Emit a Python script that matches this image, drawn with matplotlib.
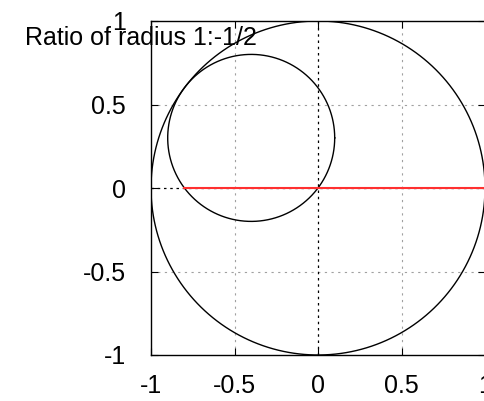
import numpy as np
import matplotlib
matplotlib.use("Agg")
import matplotlib.pyplot as plt

# data: fixed circle, rolling circle and the rod
big_radius = 1.0
big_center = (0.0, 0.0)
small_radius = 0.5
small_center = (-0.4, 0.3)
rod_x = [-0.8, 1.0]
rod_y = [0.0, 0.0]
ticks = [-1, -0.5, 0, 0.5, 1]
tick_labels = ["-1", "-0.5", "0", "0.5", "1"]
title = "Ratio of radius 1:-1/2"

plt.rcParams['font.family'] = ['Liberation Sans', 'DejaVu Sans']

fig = plt.figure(figsize=(4.84, 4.01), dpi=100)
ax = fig.add_axes([151 / 484, 46 / 401, 334 / 484, 334 / 401])

t = np.linspace(0, 2 * np.pi, 400)
ax.plot(big_center[0] + big_radius * np.cos(t), big_center[1] + big_radius * np.sin(t),
        color='black', lw=1.0)
ax.plot(small_center[0] + small_radius * np.cos(t), small_center[1] + small_radius * np.sin(t),
        color='black', lw=1.0)
ax.plot(rod_x, rod_y, color='#ff3030', lw=1.5)

# gnuplot style grid and zero axes
for v in [-0.5, 0.5]:
    ax.axvline(v, color='#a0a0a0', lw=0.8, ls=(0, (2, 4)), zorder=0)
    ax.axhline(v, color='#a0a0a0', lw=0.8, ls=(0, (2, 4)), zorder=0)
ax.axvline(0, color='black', lw=0.9, ls=(0, (2, 3)), zorder=0)
ax.axhline(0, color='black', lw=0.9, ls=(0, (2, 3)), zorder=0)

ax.set_xlim(-1, 1)
ax.set_ylim(-1, 1)
ax.set_xticks(ticks)
ax.set_xticklabels(tick_labels)
ax.set_yticks(ticks)
ax.set_yticklabels(tick_labels)
ax.tick_params(direction='in', length=5, width=0.8, top=True, right=True,
               labelsize=18)
ax.tick_params(axis='x', pad=14)
ax.tick_params(axis='y', pad=18)
for s in ax.spines.values():
    s.set_linewidth(1.0)

fig.text(25 / 484, 1 - 45 / 401, title, fontsize=18, va='baseline', ha='left')

fig.savefig("out.png", dpi=100)
